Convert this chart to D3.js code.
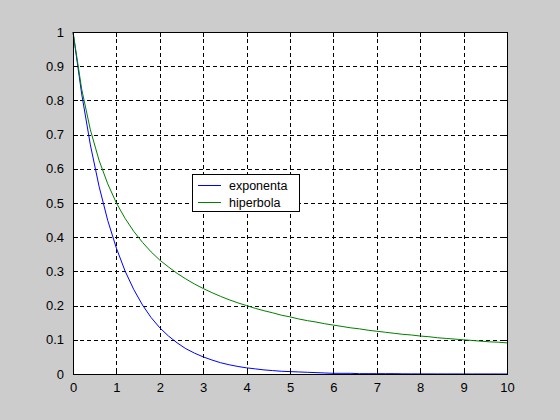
<!DOCTYPE html>
<html><head><meta charset="utf-8">
<script src="https://cdn.jsdelivr.net/npm/d3@7"></script>
<style>body{margin:0;background:#cccccc;} svg{display:block;}</style>
</head><body>
<script>
const xValues = [0,0.2,0.4,0.6,0.8,1.0,1.2,1.4,1.6,1.8,2.0,2.2,2.4,2.6,2.8,3.0,3.2,3.4,3.6,3.8,4.0,4.2,4.4,4.6,4.8,5.0,5.2,5.4,5.6,5.8,6.0,6.2,6.4,6.6,6.8,7.0,7.2,7.4,7.6,7.8,8.0,8.2,8.4,8.6,8.8,9.0,9.2,9.4,9.6,9.8,10.0];
const exponenta = [1,0.819,0.670,0.549,0.449,0.368,0.301,0.247,0.202,0.165,0.135,0.111,0.091,0.074,0.061,0.050,0.041,0.033,0.027,0.022,0.018,0.015,0.012,0.010,0.008,0.007,0.006,0.005,0.004,0.003,0.002,0.002,0.002,0.001,0.001,0.001,0.001,0.001,0.0005,0.0004,0.0003,0.0003,0.0002,0.0002,0.0002,0.0001,0.0001,0.0001,0.0001,0.0001,0];
const hiperbola = [1,0.833,0.714,0.625,0.556,0.5,0.455,0.417,0.385,0.357,0.333,0.313,0.294,0.278,0.263,0.25,0.238,0.227,0.217,0.208,0.2,0.192,0.185,0.179,0.172,0.167,0.161,0.156,0.152,0.147,0.143,0.139,0.135,0.132,0.128,0.125,0.122,0.119,0.116,0.114,0.111,0.109,0.106,0.104,0.102,0.1,0.098,0.096,0.094,0.093,0.091];
const xTicks = [0,1,2,3,4,5,6,7,8,9,10];
const yTicks = [0,0.1,0.2,0.3,0.4,0.5,0.6,0.7,0.8,0.9,1];
const seriesNames = ["exponenta","hiperbola"];
const seriesColors = ["#0000ff","#008000"];

const W = 560, H = 420;
const L = 73, R = 507, T = 32, B = 374;
const svg = d3.select("body").append("svg").attr("width", W).attr("height", H);
svg.append("rect").attr("width", W).attr("height", H).attr("fill", "#cccccc");

const x = d3.scaleLinear().domain([0,10]).range([L,R]);
const y = d3.scaleLinear().domain([0,1]).range([B,T]);

svg.append("rect").attr("x", L).attr("y", T).attr("width", R-L).attr("height", B-T).attr("fill", "#ffffff");

// grid
const grid = svg.append("g").attr("stroke", "#000").attr("stroke-width", 1).attr("stroke-dasharray", "4,3").attr("shape-rendering", "crispEdges");
xTicks.slice(1, -1).forEach(v => grid.append("line").attr("x1", Math.round(x(v))+0.5).attr("x2", Math.round(x(v))+0.5).attr("y1", T).attr("y2", B));
yTicks.slice(1, -1).forEach(v => grid.append("line").attr("y1", Math.round(y(v))+0.5).attr("y2", Math.round(y(v))+0.5).attr("x1", L).attr("x2", R));

// lines
const lineGen = d3.line().x((d,i) => x(xValues[i])).y(d => y(d));
[exponenta, hiperbola].forEach((s, k) => {
  svg.append("path").datum(s).attr("d", lineGen).attr("fill", "none").attr("stroke", seriesColors[k]).attr("stroke-width", 1);
});

// axes with inward ticks
const fmt = d => d3.format("")(d);
const axB = d3.axisBottom(x).tickValues(xTicks).tickSize(-5).tickPadding(9).tickFormat(fmt);
const axL = d3.axisLeft(y).tickValues(yTicks).tickSize(-5).tickPadding(9).tickFormat(fmt);
const axT = d3.axisTop(x).tickValues(xTicks).tickSize(-5).tickFormat("");
const axR = d3.axisRight(y).tickValues(yTicks).tickSize(-5).tickFormat("");
[[axB, `translate(0,${B})`], [axL, `translate(${L},0)`], [axT, `translate(0,${T})`], [axR, `translate(${R},0)`]].forEach(([ax, tr]) => {
  const g = svg.append("g").attr("transform", tr).call(ax);
  g.selectAll("path,line").attr("stroke", "#000").attr("shape-rendering", "crispEdges");
  g.select(".domain").attr("stroke-width", 1);
  g.selectAll("text").attr("fill", "#000").attr("font-family", "'Liberation Sans', Arial, sans-serif").attr("font-size", 13);
});

// legend
const lg = svg.append("g");
lg.append("rect").attr("x", 192.5).attr("y", 174.5).attr("width", 107).attr("height", 37).attr("fill", "#fff").attr("stroke", "#000").attr("shape-rendering", "crispEdges");
seriesNames.forEach((n, i) => {
  const yy = 185 + i*17;
  lg.append("line").attr("x1", 198).attr("x2", 221).attr("y1", yy+0.5).attr("y2", yy+0.5).attr("stroke", seriesColors[i]).attr("stroke-width", 1);
  lg.append("text").attr("x", 229).attr("y", yy+4.5).text(n).attr("font-family", "'Liberation Sans', Arial, sans-serif").attr("font-size", 12.5).attr("fill", "#000");
});
</script>
</body></html>
